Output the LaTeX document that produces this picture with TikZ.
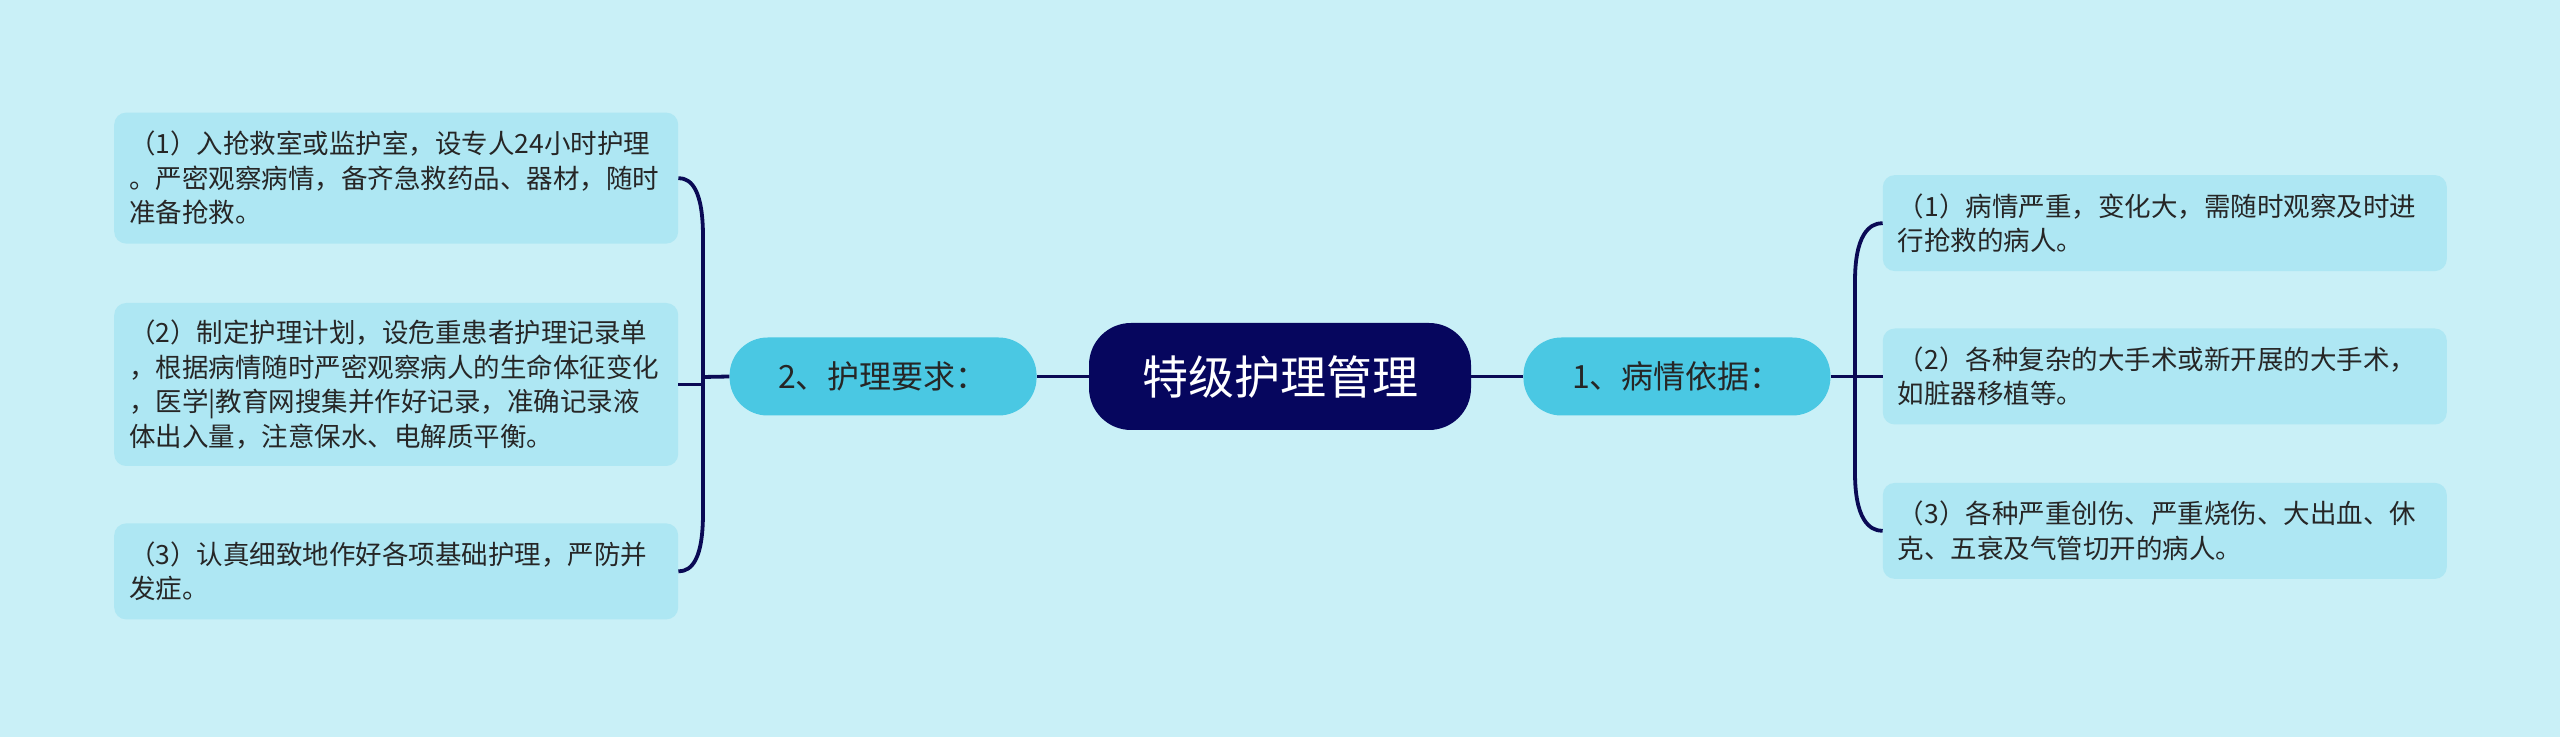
\documentclass[tikz,border=0pt]{standalone}
\usepackage{fontspec}
\setmainfont{Noto Sans CJK SC}
\usetikzlibrary{positioning}
\definecolor{bgcol}{HTML}{C9F0F7}
\definecolor{boxcol}{HTML}{AEE7F3}
\definecolor{subcol}{HTML}{4AC8E3}
\definecolor{rootcol}{HTML}{06065E}
\definecolor{linecol}{HTML}{0A0A55}
\definecolor{txtcol}{HTML}{262626}
\tikzset{
    root/.style ={fill=rootcol, text=white, rounded corners=42pt, minimum width=382pt, minimum height=107pt, font=\fontsize{46}{55}\selectfont},
    topic/.style ={fill=subcol, text=txtcol, rounded corners=38pt, minimum width=307pt, minimum height=78pt, font=\fontsize{32}{38}\selectfont},
    item/.style = {fill=boxcol, text=txtcol, rounded corners=12pt, text width=534pt, inner xsep=15pt, align=left, font=\fontsize{26.5}{34.5}\selectfont},
    link/.style = {draw=linecol, line width=3.8pt}
}
\begin{document}
\begin{tikzpicture}[x=1pt,y=1pt]
	\fill[bgcol] (0,0) rectangle (2560,737);
	\useasboundingbox (0,0) rectangle (2560,737);
	\node[root] (c) at (1280,360.5) {特级护理管理};
	\node[topic] (t2) [left = 52pt of c] {2、护理要求：};
	\node[topic] (t1) [right = 52pt of c] {1、病情依据：};

	\node[item, minimum height=163pt] (l2) [left = 51pt of t2, yshift=-8pt] {（2）制定护理计划，设危重患者护理记录单\\，根据病情随时严密观察病人的生命体征变化\\，医学|教育网搜集并作好记录，准确记录液\\体出入量，注意保水、电解质平衡。};
	\node[item, minimum height=131pt] (l1) [above = 59pt of l2] {（1）入抢救室或监护室，设专人24小时护理\\。严密观察病情，备齐急救药品、器材，随时\\准备抢救。};
	\node[item, minimum height=96pt] (l3) [below = 57pt of l2] {（3）认真细致地作好各项基础护理，严防并\\发症。};

	\node[item, minimum height=96pt] (r2) [right = 52pt of t1] {（2）各种复杂的大手术或新开展的大手术，\\如脏器移植等。};
	\node[item, minimum height=96pt] (r1) [above = 57pt of r2] {（1）病情严重，变化大，需随时观察及时进\\行抢救的病人。};
	\node[item, minimum height=96pt] (r3) [below = 58pt of r2] {（3）各种严重创伤、严重烧伤、大出血、休\\克、五衰及气管切开的病人。};

	\coordinate (lj) at (703,360);
	\coordinate (rj) at (1855,360);

	\path[link] (c) edge (t2);
	\path[link] (c) edge (t1);
	\draw[link] (t2.west) -- (lj);
	\draw[link] (lj) -- (lj |- l2.east) -- (l2.east);
	\draw[link] (lj) -- ++(0,140) .. controls +(0,45) and +(14,0) .. (l1.east);
	\draw[link] (lj) -- ++(0,-136) .. controls +(0,-45) and +(14,0) .. (l3.east);
	\draw[link] (t1.east) -- (r2.west);
	\draw[link] (rj) -- ++(0,96) .. controls +(0,45) and +(-14,0) .. (r1.west);
	\draw[link] (rj) -- ++(0,-96) .. controls +(0,-45) and +(-14,0) .. (r3.west);
\end{tikzpicture}
\end{document}
